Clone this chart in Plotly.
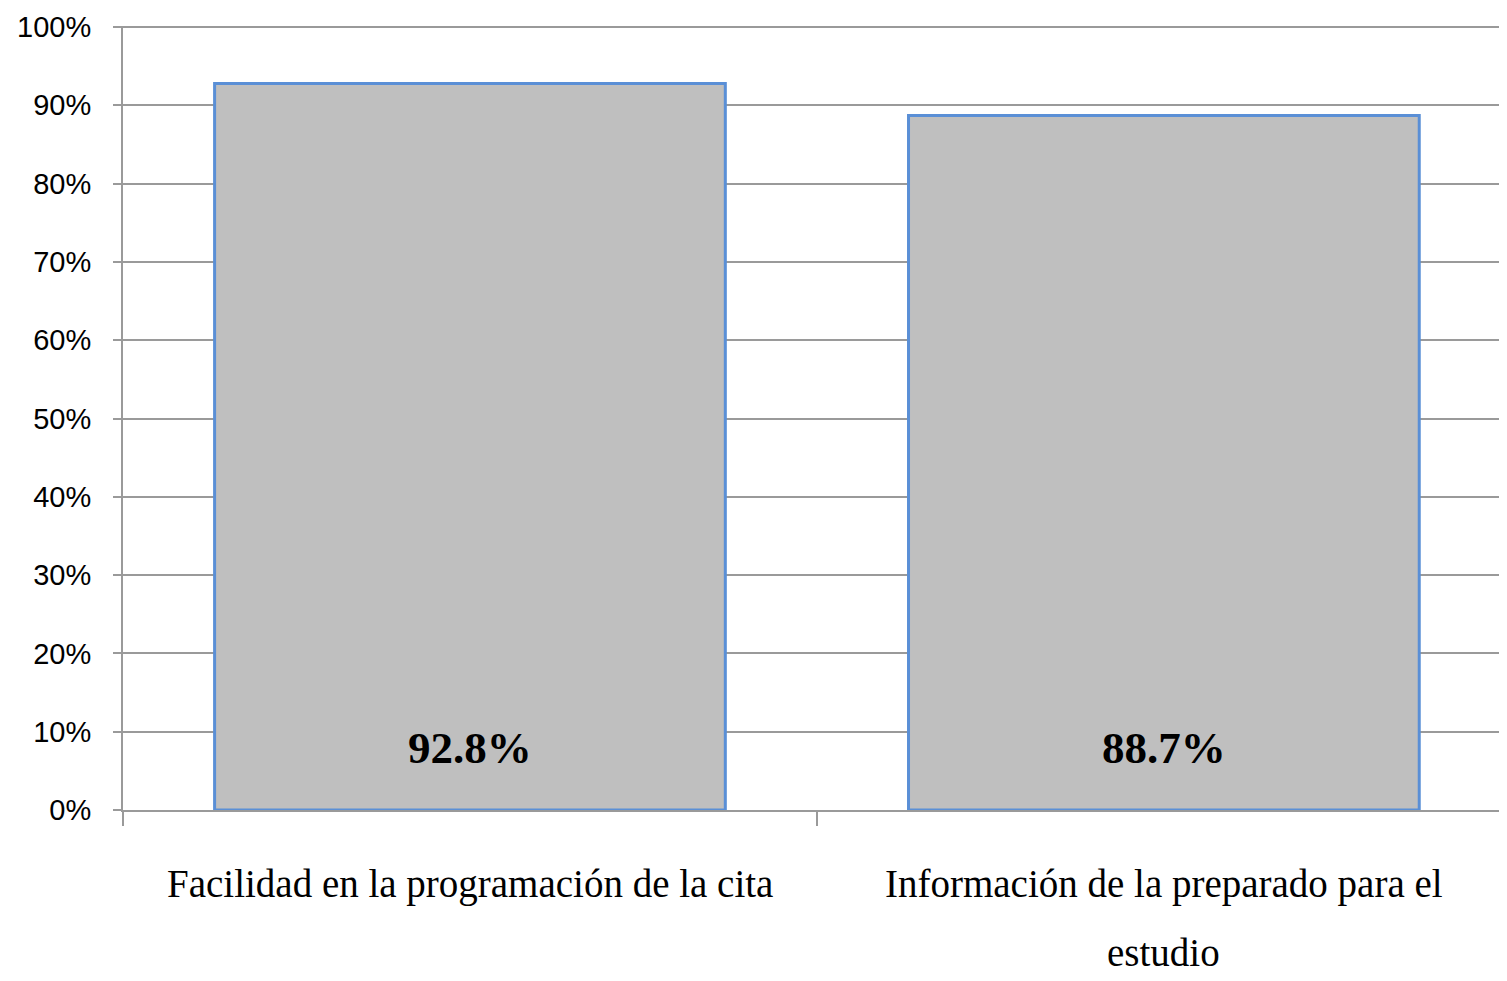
import plotly.graph_objects as go

categories = ["Facilidad en la programación de la cita",
              "Información de la preparado para el estudio"]
label_lines = [["Facilidad en la programación de la cita"],
               ["Información de la preparado para el", "estudio"]]
values = [0.928, 0.887]
y_ticks = [0, 0.1, 0.2, 0.3, 0.4, 0.5, 0.6, 0.7, 0.8, 0.9, 1.0]

grid = "#9A9A9A"
serif = "Liberation Serif"

fig = go.Figure()
fig.add_trace(go.Bar(
    x=categories, y=values,
    marker=dict(color="#BFBFBF", line=dict(color="#5A8FD6", width=3)),
    width=0.736, hoverinfo="skip",
))

annotations = []
for cat, v in zip(categories, values):
    annotations.append(dict(
        x=cat, y=0, xref="x", yref="y", text=f"<b>{v*100:.1f}%</b>",
        showarrow=False, yanchor="middle", yshift=62,
        font=dict(family=serif, size=45, color="#000"),
    ))
for cat, lines in zip(categories, label_lines):
    for i, ln in enumerate(lines):
        annotations.append(dict(
            x=cat, y=0, xref="x", yref="y", text=ln,
            showarrow=False, yanchor="middle", yshift=-(74 + 68 * i),
            font=dict(family=serif, size=39, color="#000"),
        ))

fig.update_layout(
    width=1507, height=981,
    margin=dict(l=115, r=0, t=18, b=179),
    paper_bgcolor="white", plot_bgcolor="white",
    showlegend=False,
    annotations=annotations,
    xaxis=dict(
        type="category", range=[-0.5, 1.506],
        showticklabels=False, showgrid=False,
        showline=True, linecolor=grid, linewidth=2,
        ticks="outside", tickson="boundaries", ticklen=14,
        tickcolor=grid, tickwidth=2,
    ),
    yaxis=dict(
        range=[0, 1.0013], tickvals=y_ticks, tickformat=".0%",
        showgrid=True, gridcolor=grid, gridwidth=2,
        zeroline=False,
        showline=True, linecolor=grid, linewidth=2,
        ticks="outside", ticklen=8, tickcolor=grid, tickwidth=2,
        ticklabelstandoff=16,
        tickfont=dict(family="Liberation Sans", size=29, color="#000"),
    ),
)

fig.write_html("out.html")
